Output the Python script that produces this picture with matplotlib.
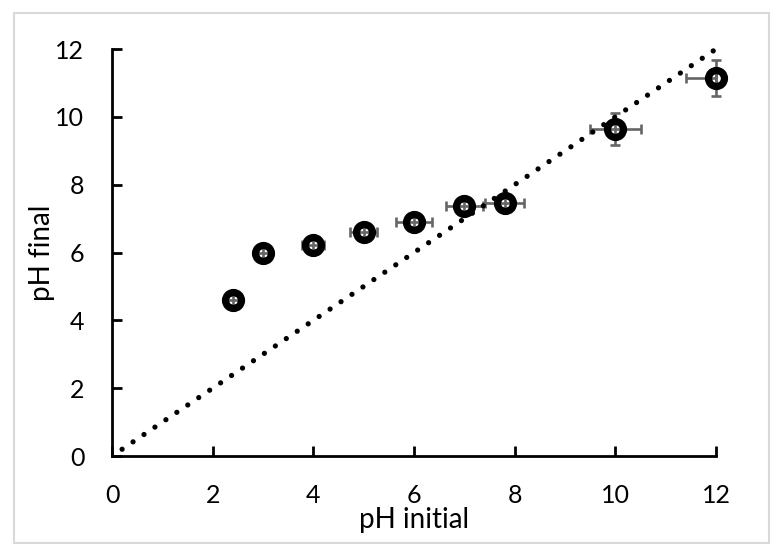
import numpy as np
import matplotlib.pyplot as plt
from matplotlib.patches import Rectangle

# measured pH values
ph_initial = [2.4, 3.0, 4.0, 5.0, 6.0, 7.0, 7.8, 10.0, 12.0]
ph_final = [4.6, 6.0, 6.22, 6.6, 6.9, 7.38, 7.47, 9.65, 11.15]
# error bars (x: left / right, y: symmetric)
xerr_lo = [0.12, 0.12, 0.22, 0.27, 0.35, 0.37, 0.39, 0.5, 0.6]
xerr_hi = [0.12, 0.12, 0.22, 0.27, 0.35, 0.37, 0.39, 0.5, 0.0]
yerr = [0.15, 0.15, 0.15, 0.15, 0.15, 0.15, 0.15, 0.47, 0.54]
# 1:1 line
line_x = [0.2, 12]
line_y = [0.2, 12]

plt.rcParams['font.family'] = ['Lato', 'DejaVu Sans']

fig = plt.figure(figsize=(7.84, 5.57), dpi=100)
ax = fig.add_axes([0.1429, 0.1813, 0.7704, 0.7307])

ax.errorbar(ph_initial, ph_final, xerr=[xerr_lo, xerr_hi], yerr=yerr,
            fmt='none', ecolor='#666666', elinewidth=1.9, capsize=3.6,
            capthick=1.9, zorder=2, clip_on=False)
ax.plot(ph_initial, ph_final, 'o', ms=11.5, mew=5.2, mfc='none', mec='black',
        zorder=3, clip_on=False)
ax.plot(line_x, line_y, color='black', lw=3.8, linestyle=(0, (0.001, 2.5)),
        dash_capstyle='round', zorder=4, clip_on=False)

ax.set_xlim(0, 12)
ax.set_ylim(0, 12)
ax.set_xticks(np.arange(0, 13, 2))
ax.set_yticks(np.arange(0, 13, 2))
for s in ['top', 'right']:
    ax.spines[s].set_visible(False)
for s in ['left', 'bottom']:
    ax.spines[s].set_linewidth(2)
ax.tick_params(direction='in', length=7, width=2, labelsize=18, pad=20)
ax.set_xlabel('pH initial', fontsize=20, labelpad=0)
ax.set_ylabel('pH final', fontsize=20, labelpad=0)

# light grey chart border
fig.patches.append(Rectangle((14 / 784, 1 - 543 / 557), 755 / 784, 530 / 557,
                             transform=fig.transFigure, fill=False,
                             edgecolor='#d9d9d9', lw=1.5))

fig.savefig('out.png', dpi=100)
